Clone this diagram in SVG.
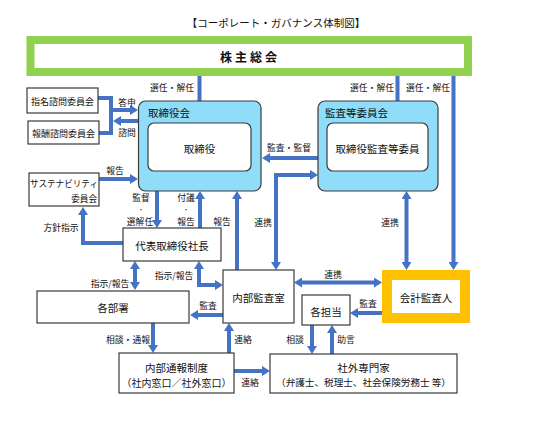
<svg xmlns="http://www.w3.org/2000/svg" width="550" height="423" viewBox="0 0 550 423">
<style>
text{font-family:"Noto Sans CJK JP","Noto Sans",sans-serif;fill:#111;dominant-baseline:central}
.lb{font-size:8.8px;text-anchor:middle}
.dot{font-size:6px;text-anchor:middle}
.bx{font-size:10.5px;text-anchor:middle}
.sm{font-size:9px;text-anchor:middle}
.box{fill:#fff;stroke:#3a3a3a;stroke-width:1.2}
.cyan{fill:#8FDDF9;stroke:#3a3a3a;stroke-width:1.2}
.c{fill:none;stroke:#4472C4;stroke-width:4}
.e{marker-end:url(#ah)}
.b{marker-start:url(#ah);marker-end:url(#ah)}
</style>
<defs>
<marker id="ah" viewBox="0 0 8 10" refX="0" refY="5" markerWidth="8" markerHeight="10" markerUnits="userSpaceOnUse" orient="auto-start-reverse">
<path d="M0,0 L8,5 L0,10 z" fill="#4472C4"/>
</marker>
</defs>
<rect width="550" height="423" fill="#fff"/>
<text x="276" y="22" style="font-size:10.5px;text-anchor:middle">【コーポレート・ガバナンス体制図】</text>

<g id="connectors">
<path class="c e" d="M199.5,76 V114"/>
<path class="c e" d="M397.5,76 V114"/>
<path class="c e" d="M453.5,76 V262"/>
<path class="c" d="M98,98 H111 V133 H99"/>
<path class="c e" d="M109,110 H130"/>
<path class="c e" d="M138,121 H121"/>
<path class="c e" d="M99,179 H130"/>
<path class="c e" d="M123,243 H83 V215"/>
<path class="c e" d="M157,191 V220"/>
<path class="c e" d="M200,228 V199"/>
<path class="c e" d="M237,270 V199"/>
<path class="c e" d="M318,158 H270"/>
<path class="c b" d="M276,262 V175 H310"/>
<path class="c b" d="M406.5,199 V262"/>
<path class="c b" d="M135,269 V282"/>
<path class="c b" d="M199,269 V285 H215"/>
<path class="c b" d="M302,282.5 H374"/>
<path class="c e" d="M223,315 H198"/>
<path class="c e" d="M382,313 H358"/>
<path class="c e" d="M153,323 V345"/>
<path class="c e" d="M229,353 V331"/>
<path class="c e" d="M234,371 H262"/>
<path class="c e" d="M312,325 V346"/>
<path class="c e" d="M332,354 V333"/>
</g>

<g id="labels">
<text class="lb" x="172" y="87">選任・解任</text>
<text class="lb" x="372" y="87">選任・解任</text>
<text class="lb" x="428" y="87">選任・解任</text>
<text class="lb" x="127" y="102">答申</text>
<text class="lb" x="127" y="132">諮問</text>
<text class="lb" x="115" y="170">報告</text>
<text class="lb" x="289" y="147">監査・監督</text>
<text class="lb" x="141" y="197">監督</text>
<text class="dot" x="141" y="209">・</text>
<text class="lb" x="140" y="221">選解任</text>
<text class="lb" x="186" y="197">付議</text>
<text class="dot" x="186" y="209">・</text>
<text class="lb" x="186" y="221">報告</text>
<text class="lb" x="222" y="221">報告</text>
<text class="lb" x="263" y="222">連携</text>
<text class="lb" x="390" y="222">連携</text>
<text class="lb" x="61" y="227">方針指示</text>
<text class="lb" x="110" y="283">指示/報告</text>
<text class="lb" x="174" y="275">指示/報告</text>
<text class="lb" x="333" y="274">連携</text>
<text class="lb" x="208" y="305">監査</text>
<text class="lb" x="368" y="303">監査</text>
<text class="lb" x="128" y="339">相談・通報</text>
<text class="lb" x="243" y="339">連絡</text>
<text class="lb" x="295" y="339">相談</text>
<text class="lb" x="346" y="339">助言</text>
<text class="lb" x="250" y="382">連絡</text>
</g>

<g id="shareholders">
<rect x="30.5" y="40" width="437.5" height="32" fill="#fff" stroke="#92D050" stroke-width="8"/>
<text x="250" y="56" style="font-size:12px;font-weight:bold;text-anchor:middle;letter-spacing:3px">株主総会</text>
</g>
<g id="nomination">
<rect class="box" x="27" y="88" width="71" height="25"/>
<text class="sm" x="62.5" y="101">指名諮問委員会</text>
</g>
<g id="remuneration">
<rect class="box" x="28" y="121" width="71" height="23"/>
<text class="sm" x="63.5" y="133">報酬諮問委員会</text>
</g>
<g id="board">
<rect class="cyan" x="138.5" y="101" width="122.5" height="90" rx="7"/>
<text x="148" y="112" style="font-size:10.5px">取締役会</text>
<rect class="box" x="148" y="123" width="103" height="48" rx="6"/>
<text class="bx" x="199.5" y="148">取締役</text>
</g>
<g id="audit-committee">
<rect class="cyan" x="318" y="101" width="120" height="90" rx="7"/>
<text x="325" y="112" style="font-size:10.5px">監査等委員会</text>
<rect class="box" x="327" y="123" width="101" height="48" rx="6"/>
<text class="bx" x="377.5" y="148">取締役監査等委員</text>
</g>
<g id="sustainability">
<rect class="box" x="29" y="173" width="70" height="33"/>
<text x="64" y="183" style="font-size:8.6px;text-anchor:middle">サステナビリティ</text>
<text x="97" y="198" style="font-size:8.6px;text-anchor:end">委員会</text>
</g>
<g id="president">
<rect class="box" x="123" y="228" width="98" height="33"/>
<text class="bx" x="172" y="245">代表取締役社長</text>
</g>
<g id="departments">
<rect class="box" x="37" y="291" width="152" height="32"/>
<text class="bx" x="113" y="307">各部署</text>
</g>
<g id="internal-audit">
<rect class="box" x="223" y="270" width="71" height="53"/>
<text class="bx" x="258.5" y="297">内部監査室</text>
</g>
<g id="accounting-auditor">
<rect x="387" y="275" width="78" height="43" fill="#fff" stroke="#FFC000" stroke-width="10"/>
<text class="bx" x="426" y="297">会計監査人</text>
</g>
<g id="persons-in-charge">
<rect class="box" x="302" y="295" width="48" height="30"/>
<text class="bx" x="326" y="311">各担当</text>
</g>
<g id="whistleblowing">
<rect class="box" x="119" y="353" width="115" height="40"/>
<text class="bx" x="176.5" y="367">内部通報制度</text>
<text class="sm" x="176.5" y="382" style="font-size:10px">（社内窓口／社外窓口）</text>
</g>
<g id="external-experts">
<rect class="box" x="270" y="354" width="187" height="39"/>
<text class="bx" x="363.5" y="367">社外専門家</text>
<text class="sm" x="363.5" y="382" style="font-size:9.6px">（弁護士、税理士、社会保険労務士 等）</text>
</g>
</svg>
